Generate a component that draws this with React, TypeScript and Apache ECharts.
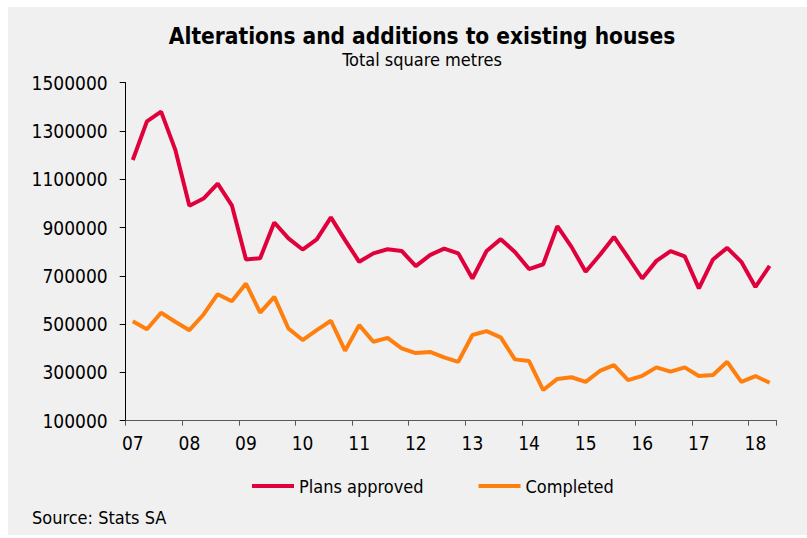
import React, { useEffect, useRef } from "react";
import * as echarts from "echarts";

const years = ["07", "08", "09", "10", "11", "12", "13", "14", "15", "16", "17", "18"];
const quarters = ["Q1", "Q2", "Q3", "Q4"];
const categories: string[] = [];
years.forEach((y) => quarters.forEach((q) => categories.push(y + q)));
categories.length = 46; // 2007Q1 .. 2018Q2

const plansApproved = [
  1180000, 1340000, 1380000, 1223000, 990000, 1020000, 1082000, 992000,
  768000, 773000, 921000, 855000, 809000, 851000, 942000, 848000,
  758000, 793000, 810000, 803000, 740000, 786000, 813000, 793000,
  689000, 803000, 852000, 799000, 728000, 748000, 906000, 820000,
  717000, 786000, 861000, 776000, 689000, 762000, 802000, 781000,
  648000, 768000, 816000, 758000, 654000, 741000,
];

const completed = [
  512000, 479000, 547000, 510000, 475000, 540000, 624000, 595000,
  668000, 548000, 613000, 482000, 434000, 475000, 514000, 390000,
  496000, 427000, 443000, 400000, 380000, 385000, 362000, 344000,
  455000, 471000, 445000, 354000, 347000, 227000, 273000, 280000,
  261000, 306000, 330000, 268000, 286000, 321000, 303000, 321000,
  285000, 289000, 344000, 261000, 285000, 257000,
];

const yTicks = { min: 100000, max: 1500000, interval: 200000 };

const RED = "#e0003c";
const ORANGE = "#ff7f0e";
const FONT = "'DejaVu Sans Condensed', 'DejaVu Sans', sans-serif";

export default function App() {
  const ref = useRef<HTMLDivElement>(null);
  useEffect(() => {
    if (!ref.current) return;
    const chart = echarts.init(ref.current, undefined, { renderer: "svg" });
    chart.setOption({
      animation: false,
      backgroundColor: "#ffffff",
      textStyle: { fontFamily: FONT },
      graphic: [
        {
          type: "rect",
          z: -10,
          silent: true,
          shape: { x: 8, y: 7, width: 799, height: 528 },
          style: { fill: "#f0f0f0" },
        },
        {
          type: "text",
          x: 422,
          y: 35.5,
          style: {
            text: "Alterations and additions to existing houses",
            fontFamily: FONT,
            fontWeight: "bold",
            fontSize: 22.5,
            fill: "#000",
            align: "center",
            verticalAlign: "middle",
          },
        },
        {
          type: "text",
          x: 422,
          y: 59,
          style: {
            text: "Total square metres",
            fontFamily: FONT,
            fontSize: 18,
            fill: "#000",
            align: "center",
            verticalAlign: "middle",
          },
        },
        {
          type: "text",
          x: 32,
          y: 517,
          style: {
            text: "Source: Stats SA",
            fontFamily: FONT,
            fontSize: 18,
            fill: "#000",
            align: "left",
            verticalAlign: "middle",
          },
        },
      ],
      legend: {
        left: 247,
        top: 472,
        itemWidth: 42,
        itemHeight: 4,
        itemGap: 55,
        icon: "rect",
        textStyle: { fontFamily: FONT, fontSize: 18, color: "#000" },
        data: ["Plans approved", "Completed"],
      },
      grid: { left: 125.7, right: 30.3, top: 82.7, bottom: 117.3, containLabel: false },
      xAxis: {
        type: "category",
        data: categories,
        boundaryGap: true,
        axisLine: { lineStyle: { color: "#595959", width: 1 } },
        axisTick: { show: true, interval: 3, length: 5, lineStyle: { color: "#595959" } },
        axisLabel: {
          interval: 3,
          margin: 13,
          fontSize: 19,
          fontFamily: FONT,
          color: "#000",
          formatter: (v: string) => v.slice(0, 2),
        },
        splitLine: { show: false },
      },
      yAxis: {
        type: "value",
        min: yTicks.min,
        max: yTicks.max,
        interval: yTicks.interval,
        axisLine: { show: true, lineStyle: { color: "#000", width: 1 } },
        axisTick: { show: true, length: 6, lineStyle: { color: "#000" } },
        axisLabel: {
          fontSize: 19,
          fontFamily: FONT,
          color: "#000",
          margin: 18,
          formatter: (v: number) => String(v),
        },
        splitLine: { show: false },
      },
      series: [
        {
          name: "Plans approved",
          type: "line",
          data: plansApproved,
          symbol: "none",
          lineStyle: { color: RED, width: 4 },
          itemStyle: { color: RED },
        },
        {
          name: "Completed",
          type: "line",
          data: completed,
          symbol: "none",
          lineStyle: { color: ORANGE, width: 4 },
          itemStyle: { color: ORANGE },
        },
      ],
    });
    return () => chart.dispose();
  }, []);
  return (
    <div
      ref={ref}
      style={{ position: "fixed", left: 0, top: 0, width: 807, height: 538 }}
    />
  );
}
